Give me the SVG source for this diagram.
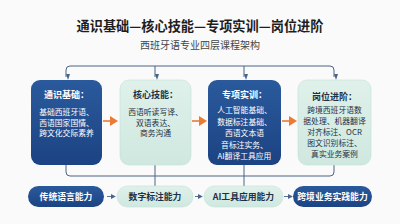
<svg xmlns="http://www.w3.org/2000/svg" width="400" height="224" viewBox="0 0 400 224">
<defs>
<linearGradient id="gBlue" x1="0" y1="0" x2="0" y2="1">
<stop offset="0" stop-color="#2a5a9c"/>
<stop offset="1" stop-color="#1c4383"/>
</linearGradient>
<linearGradient id="gMint" x1="0" y1="0" x2="0" y2="1">
<stop offset="0" stop-color="#dff1ea"/>
<stop offset="1" stop-color="#cfe8df"/>
</linearGradient>
<marker id="mDown" viewBox="0 0 6 6" refX="3" refY="5" markerWidth="6" markerHeight="6" orient="auto-start-reverse" markerUnits="userSpaceOnUse">
<path d="M0,1 L6,3 L0,5 Z" fill="#4a6488"/>
</marker>
<marker id="mSmall" viewBox="0 0 6 6" refX="5" refY="3" markerWidth="5" markerHeight="5" orient="auto" markerUnits="userSpaceOnUse">
<path d="M0,0 L6,3 L0,6 Z" fill="#4a6488"/>
</marker>
</defs>
<style>
text{font-family:"Noto Sans CJK SC","Noto Sans",sans-serif;text-anchor:middle}
.title{font-size:13.2px;font-weight:700;fill:#1e1e1e}
.sub{font-size:10px;fill:#444}
.blue{fill:url(#gBlue)}
.mint{fill:url(#gMint);stroke:#c4e0d6;stroke-width:0.6}
.ht{font-size:9px;font-weight:700}
.bt{font-size:7.8px}
.w{fill:#ffffff}
.d{fill:#1f2f45}
.pt{font-size:8.8px;font-weight:700}
.conn{fill:none;stroke:#4a6488;stroke-width:1}
.orange{fill:none;stroke:#ec7a33;stroke-width:1.6}
.ohead{fill:#ec7a33}
.sa{fill:none;stroke:#4a6488;stroke-width:0.9}
</style>
<rect width="400" height="224" fill="#fafafa"/>
<text class="title" x="200" y="31">通识基础—核心技能—专项实训—岗位进阶</text>
<text class="sub" x="200" y="49">西班牙语专业四层课程架构</text>

<g id="connectors">
<path class="conn" d="M66,77 V70 Q66,66 70,66 H330 Q334,66 334,70 V77" marker-start="url(#mDown)" marker-end="url(#mDown)"/>
<path class="conn" d="M155,66 V77" marker-end="url(#mDown)"/>
<path class="conn" d="M244,66 V77" marker-end="url(#mDown)"/>
<path class="conn" d="M66,165 V172 Q66,176 70,176 H330 Q334,176 334,172 V165"/>
<path class="conn" d="M155,165 V186"/>
<path class="conn" d="M244,165 V186"/>
<line class="orange" x1="103" y1="121" x2="111" y2="121"/>
<path class="ohead" d="M110,116 L118,121 L110,126 Z"/>
<line class="orange" x1="192" y1="121" x2="200" y2="121"/>
<path class="ohead" d="M199,116 L207,121 L199,126 Z"/>
<line class="orange" x1="282" y1="121" x2="290" y2="121"/>
<path class="ohead" d="M289,116 L297,121 L289,126 Z"/>
<line class="sa" x1="107" y1="196.5" x2="115" y2="196.5" marker-end="url(#mSmall)"/>
<line class="sa" x1="195" y1="196.5" x2="202" y2="196.5" marker-end="url(#mSmall)"/>
<line class="sa" x1="284" y1="196.5" x2="292" y2="196.5" marker-end="url(#mSmall)"/>
</g>

<g id="box1">
<rect class="blue" x="31" y="80" width="71" height="85" rx="9"/>
<text class="ht w" x="66.5" y="98">通识基础：</text>
<text class="bt w" x="66.5" y="115">基础西班牙语、</text>
<text class="bt w" x="66.5" y="125.5">西语国家国情、</text>
<text class="bt w" x="66.5" y="136">跨文化交际素养</text>
</g>
<g id="box2">
<rect class="mint" x="120" y="80" width="71" height="85" rx="9"/>
<text class="ht d" x="155.5" y="98">核心技能：</text>
<text class="bt d" x="155.5" y="115">西语听读写译、</text>
<text class="bt d" x="155.5" y="125.5">双语表达、</text>
<text class="bt d" x="155.5" y="136">商务沟通</text>
</g>
<g id="box3">
<rect class="blue" x="208" y="80" width="73" height="85" rx="9"/>
<text class="ht w" x="244.5" y="98">专项实训：</text>
<text class="bt w" x="244.5" y="113">人工智能基础、</text>
<text class="bt w" x="244.5" y="124.5">数据标注基础、</text>
<text class="bt w" x="244.5" y="136">西语文本语</text>
<text class="bt w" x="244.5" y="147.5">音标注实务、</text>
<text class="bt w" x="244.5" y="159">AI翻译工具应用</text>
</g>
<g id="box4">
<rect class="mint" x="298" y="80" width="73" height="85" rx="9"/>
<text class="ht d" x="334.5" y="100">岗位进阶：</text>
<text class="bt d" x="334.5" y="113">跨境西班牙语数</text>
<text class="bt d" x="334.5" y="124">据处理、机器翻译</text>
<text class="bt d" x="334.5" y="135">对齐标注、OCR</text>
<text class="bt d" x="334.5" y="146">图文识别标注、</text>
<text class="bt d" x="334.5" y="157">真实业务案例</text>
</g>

<g id="pill1">
<rect class="blue" x="28" y="186" width="76" height="21" rx="10.5"/>
<text class="pt w" x="66" y="199.8">传统语言能力</text>
</g>
<g id="pill2">
<rect class="mint" x="117" y="186" width="76" height="21" rx="10.5"/>
<text class="pt d" x="155" y="199.8">数字标注能力</text>
</g>
<g id="pill3">
<rect class="mint" x="204" y="186" width="79" height="21" rx="10.5"/>
<text class="pt d" x="243.5" y="199.8">AI工具应用能力</text>
</g>
<g id="pill4">
<rect class="blue" x="293" y="186" width="79" height="21" rx="10.5"/>
<text class="pt w" x="332.5" y="199.8">跨境业务实践能力</text>
</g>
</svg>
